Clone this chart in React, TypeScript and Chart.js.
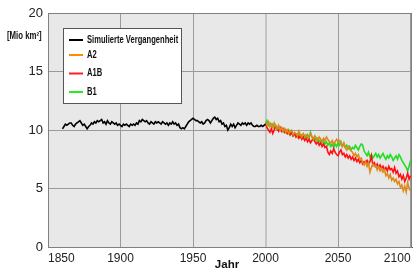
import React, { useEffect, useRef } from 'react';
import { Chart, registerables } from 'chart.js';

Chart.register(...registerables);

const PAST_START = 1860;
const FUTURE_START = 2000;

const PAST = [
  10.1, 10.3, 10.5, 10.4, 10.5, 10.6, 10.6, 10.4, 10.3, 10.5,
  10.6, 10.7, 10.8, 10.6, 10.4, 10.5, 10.3, 10.1, 10.3, 10.4,
  10.6, 10.5, 10.7, 10.6, 10.8, 10.7, 10.8, 10.9, 10.6, 10.7,
  10.5, 10.8, 10.6, 10.5, 10.7, 10.6, 10.5, 10.6, 10.4, 10.5,
  10.4, 10.3, 10.5, 10.4, 10.5, 10.4, 10.3, 10.5, 10.4, 10.5,
  10.4, 10.6, 10.5, 10.8, 10.7, 10.9, 10.8, 10.7, 10.8, 10.6,
  10.5, 10.7, 10.6, 10.5, 10.7, 10.6, 10.7, 10.6, 10.5, 10.7,
  10.6, 10.5, 10.6, 10.4, 10.6, 10.5, 10.7, 10.5, 10.6, 10.4,
  10.5, 10.2, 10.1, 10.2, 10.1, 10.3, 10.5, 10.7, 10.8, 10.9,
  11.0, 10.9, 10.8, 10.8, 10.7, 10.6, 10.7, 10.5, 10.6, 10.8,
  10.9, 10.8, 10.6, 10.8, 11.0, 11.1, 10.9, 11.0, 10.7, 10.8,
  10.5, 10.6, 10.3, 10.4, 10.0, 10.2, 10.5, 10.3, 10.5, 10.2,
  10.4, 10.6, 10.5, 10.4, 10.6, 10.5, 10.6, 10.4, 10.6, 10.5,
  10.6, 10.4, 10.3, 10.3, 10.4, 10.3, 10.3, 10.4, 10.3, 10.4,
  10.5,
];

const A2 = [
  10.6, 10.4, 10.7, 10.3, 10.5, 10.2, 10.6, 10.3, 10.1, 10.4,
  10.0, 10.2, 9.9, 10.1, 9.8, 10.0, 9.7, 9.9, 10.0, 9.6,
  9.8, 9.7, 9.5, 9.9, 9.6, 9.4, 9.7, 9.5, 9.6, 9.3,
  9.5, 9.7, 9.4, 9.2, 9.5, 9.3, 9.1, 9.4, 9.2, 9.0,
  9.3, 9.1, 9.4, 9.2, 9.0, 8.9, 9.1, 8.8, 9.0, 9.2,
  9.0, 9.1, 8.8, 8.6, 8.9, 8.5, 8.3, 8.6, 8.4, 8.2,
  8.1, 7.8, 8.0, 7.7, 7.9, 7.5, 7.6, 7.2, 7.0, 7.3,
  6.9, 7.2, 6.4, 6.8, 7.1, 6.9, 7.0, 6.6, 6.9, 6.5,
  6.7, 6.4, 6.6, 6.1, 6.3, 5.9, 6.2, 5.7, 5.9, 5.6,
  5.8, 5.4, 5.6, 5.1, 5.3, 4.8, 5.2, 4.7, 5.5, 5.0,
  4.8,
];

const A1B = [
  10.6, 10.2, 10.0, 9.8, 10.1, 9.7, 10.0, 10.3, 10.1, 9.9,
  10.2, 9.9, 10.1, 9.8, 10.0, 9.7, 9.9, 9.6, 9.8, 9.5,
  9.7, 9.4, 9.6, 9.3, 9.5, 9.2, 9.4, 9.1, 9.3, 9.0,
  9.2, 8.9, 9.1, 9.3, 9.0, 8.8, 9.0, 8.7, 8.9, 8.6,
  8.8, 8.5, 8.6, 8.1, 7.9, 8.2, 8.0, 8.4, 8.1, 7.9,
  7.8, 8.1, 8.3, 7.9, 8.0, 7.7, 7.9, 7.6, 7.8, 7.5,
  7.7, 7.4, 7.6, 7.3, 7.5, 7.2, 7.4, 7.1, 7.3, 7.2,
  7.4, 7.1, 7.3, 7.8, 7.0, 7.2, 6.9, 7.1, 6.8, 7.0,
  6.7, 6.9, 6.6, 6.8, 6.5, 6.9, 6.6, 6.7, 6.4, 6.8,
  6.3, 6.5, 6.0, 6.2, 5.8, 6.1, 5.6, 5.9, 6.3, 5.8,
  6.1,
];

const B1 = [
  10.6, 10.8, 10.4, 10.6, 10.3, 10.5, 10.2, 10.4, 10.1, 10.3,
  10.0, 10.2, 9.9, 10.1, 9.8, 9.7, 10.0, 9.6, 9.8, 9.5,
  9.7, 9.6, 9.4, 9.7, 9.5, 9.6, 9.3, 9.5, 9.4, 9.6,
  9.3, 9.8, 9.4, 9.2, 9.4, 9.1, 9.3, 9.0, 9.2, 8.9,
  9.1, 8.8, 9.0, 8.7, 8.9, 8.6, 8.8, 8.5, 8.8, 8.6,
  8.9, 8.7, 9.0, 8.6, 8.8, 8.5, 8.7, 8.4, 8.6, 8.3,
  8.5, 8.4, 8.7, 8.5, 8.3, 8.6, 8.8, 8.7, 8.2, 8.0,
  7.8, 8.1, 7.7, 7.9, 7.6, 7.8, 8.0, 7.7, 7.9, 7.6,
  7.8, 8.0, 7.7, 7.5, 7.8, 7.6, 7.9, 7.7, 7.4, 7.6,
  7.8, 7.5, 7.9, 7.7, 7.4, 7.2, 7.0, 6.8, 6.5, 6.9,
  7.4,
];

const X_TICKS = [1850, 1900, 1950, 2000, 2050, 2100];
const Y_TICKS = [0, 5, 10, 15, 20];
const SERIES_LABELS = ['Simulierte Vergangenheit', 'A2', 'A1B', 'B1'];
const LINE_COLORS = ['#000000', '#dd8a1c', '#ff1010', '#22dd22'];
const LEGEND_COLORS = ['#000000', '#ff8c00', '#ff2020', '#22ee22'];
const Y_UNIT = '[Mio km²]';
const X_TITLE = 'Jahr';

const toPoints = (start: number, vals: number[]) => vals.map((v, i) => ({ x: start + i, y: v }));

const bgPlugin = {
  id: 'bgFrame',
  beforeDraw(chart: any) {
    const { ctx, chartArea: a } = chart;
    ctx.save();
    ctx.fillStyle = '#e8e8e8';
    ctx.fillRect(a.left, a.top, a.right - a.left, a.bottom - a.top);
    ctx.restore();
  },
  beforeDatasetsDraw(chart: any) {
    const { ctx, chartArea: a } = chart;
    ctx.save();
    ctx.strokeStyle = '#808080';
    ctx.lineWidth = 1;
    ctx.strokeRect(a.left + 0.5, a.top + 0.5, a.right - a.left - 1, a.bottom - a.top);
    ctx.restore();
  },
  afterDraw(chart: any) {
    const { ctx, chartArea: a } = chart;
    const drawText = (text: string, x: number, y: number, font: string, align: CanvasTextAlign, sx: number) => {
      ctx.save();
      ctx.font = font;
      ctx.textAlign = align;
      ctx.textBaseline = 'middle';
      ctx.fillStyle = '#111';
      ctx.translate(x, y);
      ctx.scale(sx, 1);
      ctx.fillText(text, 0, 0);
      ctx.restore();
    };
    // legend box
    const bx = a.left + 15;
    const by = a.top + 15;
    const bw = 118;
    const bh = 75;
    ctx.save();
    ctx.fillStyle = '#ffffff';
    ctx.fillRect(bx, by, bw, bh);
    ctx.strokeStyle = '#555';
    ctx.lineWidth = 1;
    ctx.strokeRect(bx + 0.5, by + 0.5, bw, bh);
    ctx.restore();
    const rows = [12, 27, 45.5, 64];
    SERIES_LABELS.forEach((lab, i) => {
      const y = by + rows[i];
      ctx.save();
      ctx.strokeStyle = LEGEND_COLORS[i];
      ctx.lineWidth = 2;
      ctx.beginPath();
      ctx.moveTo(bx + 6, y);
      ctx.lineTo(bx + 20, y);
      ctx.stroke();
      ctx.restore();
      drawText(lab, bx + 24, y, 'bold 10px "Liberation Sans", Arial, sans-serif', 'left', 0.76);
    });
    // unit label
    drawText(Y_UNIT, 7, 36, 'bold 10px "Liberation Sans", Arial, sans-serif', 'left', 0.78);
    // x title
    drawText(X_TITLE, (a.left + a.right) / 2 - 3, 264.5, 'bold 11px "Liberation Sans", Arial, sans-serif', 'center', 1.05);
  },
};

export default function App() {
  const ref = useRef<HTMLCanvasElement | null>(null);
  useEffect(() => {
    if (!ref.current) return;
    const seriesData = [toPoints(PAST_START, PAST), toPoints(FUTURE_START, A2), toPoints(FUTURE_START, A1B), toPoints(FUTURE_START, B1)];
    const chart = new Chart(ref.current, {
      type: 'line',
      data: {
        datasets: seriesData.map((d, i) => ({
          label: SERIES_LABELS[i],
          data: d,
          borderColor: LINE_COLORS[i],
          backgroundColor: LINE_COLORS[i],
          borderWidth: 1.6,
          pointRadius: 0,
          tension: 0,
          fill: false,
        })),
      },
      options: {
        animation: false,
        responsive: false,
        maintainAspectRatio: false,
        layout: { padding: { top: 13, right: 6, left: 0, bottom: 0 } },
        plugins: { legend: { display: false }, tooltip: { enabled: false } },
        scales: {
          x: {
            type: 'linear',
            min: 1850,
            max: 2101,
            afterBuildTicks: (s: any) => { s.ticks = X_TICKS.map((v) => ({ value: v })); },
            afterFit: (s: any) => { s.height = 21; s.paddingLeft = 0; s.paddingRight = 0; },
            grid: {
              color: (c: any) => (c.tick && c.tick.value === 2000 ? '#c4c4c4' : '#9a9a9a'),
              lineWidth: (c: any) => (c.tick && c.tick.value === 2000 ? 2 : 1),
              drawTicks: false,
            },
            border: { color: '#555', width: 1 },
            ticks: {
              padding: 4,
              color: '#222',
              maxRotation: 0,
              autoSkip: false,
              align: 'inner',
              font: { family: '"Liberation Sans", Arial, sans-serif', size: 12 },
              callback: (v: any) => String(v),
            },
          },
          y: {
            min: 0,
            max: 20,
            afterBuildTicks: (s: any) => { s.ticks = Y_TICKS.map((v) => ({ value: v })); },
            afterFit: (s: any) => { s.width = 48; s.paddingTop = 0; s.paddingBottom = 0; },
            grid: { color: '#9a9a9a', lineWidth: 1, drawTicks: false },
            border: { color: '#555', width: 1 },
            ticks: {
              padding: 5,
              color: '#222',
              font: { family: '"Liberation Sans", Arial, sans-serif', size: 13 },
              callback: (v: any) => String(v),
            },
          },
        },
      },
      plugins: [bgPlugin],
    } as any);
    return () => chart.destroy();
  }, []);
  return (
    <div style={{ position: 'absolute', left: 0, top: 0, width: 418, height: 268, background: '#fff' }}>
      <canvas ref={ref} width={418} height={268} style={{ width: 418, height: 268, display: 'block' }} />
    </div>
  );
}
